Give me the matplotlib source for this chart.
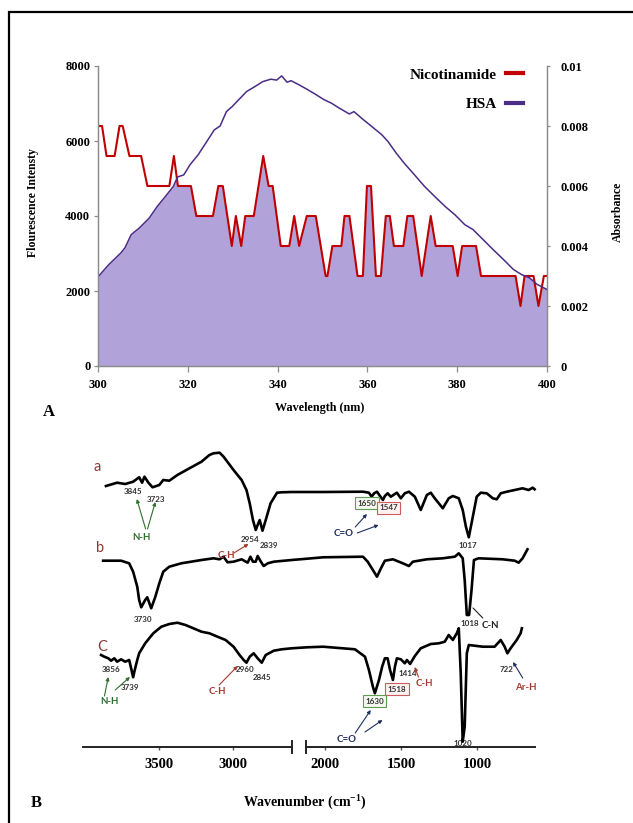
import numpy as np
import matplotlib
matplotlib.use('Agg')
import matplotlib.pyplot as plt
from matplotlib.lines import Line2D
from matplotlib.patches import Rectangle
from matplotlib.ticker import FixedLocator, FuncFormatter

plt.rcParams['font.family'] = 'Liberation Serif'
plt.rcParams['mathtext.fontset'] = 'custom'
plt.rcParams['mathtext.rm'] = 'Liberation Serif:bold'
plt.rcParams['mathtext.bf'] = 'Liberation Serif:bold'

# ---------------- panel A: fluorescence / absorbance ----------------
nic_nm = [300, 300.9, 301.9, 303.7, 304.8, 305.5, 307.0, 309.6, 311.0, 315.9,
          316.9, 317.8, 320.7, 321.9, 325.6, 326.8, 327.8, 329.8, 330.7, 331.9,
          332.8, 334.7, 336.8, 338.0, 338.9, 340.7, 342.6, 343.7, 344.8, 346.5,
          348.5, 350.7, 351.1, 352.2, 354.2, 354.9, 356.0, 357.8, 359.0, 359.9,
          360.8, 361.9, 363.0, 364.1, 365.0, 365.9, 368.0, 368.9, 370.2, 372.1,
          374.1, 375.2, 379.0, 380.1, 381.1, 384.2, 385.3, 393.0, 394.1, 395.0,
          397.0, 398.1, 399.3, 400]
nic_val = [6400, 6400, 5600, 5600, 6400, 6400, 5600, 5600, 4800, 4800,
           5600, 4800, 4800, 4000, 4000, 4800, 4800, 3200, 4000, 3200,
           4000, 4000, 5600, 4800, 4800, 3200, 3200, 4000, 3200, 4000,
           4000, 2400, 2400, 3200, 3200, 4000, 4000, 2400, 2400, 4800,
           4800, 2400, 2400, 4000, 4000, 3200, 3200, 4000, 4000, 2400,
           4000, 3200, 3200, 2400, 3200, 3200, 2400, 2400, 1600, 2400,
           2400, 1600, 2400, 2400]

hsa_nm = [300, 302.4, 305.1, 306.0, 307.4, 309.2, 311.4, 313.2, 315.0, 316.8,
          317.7, 319.1, 320.5, 322.3, 324.0, 325.9, 327.2, 328.6, 329.9, 331.3,
          333.1, 334.9, 336.7, 338.5, 339.8, 340.9, 342.1, 343.0, 344.8, 346.6,
          348.4, 350.2, 352.0, 353.8, 356.0, 357.0, 358.7, 361.0, 363.2, 364.6,
          366.4, 368.2, 370.5, 372.7, 375.0, 377.3, 379.5, 381.7, 383.5, 385.8,
          388.0, 390.3, 392.5, 394.3, 396.1, 397.8, 400]
hsa_abs = [0.00297, 0.00338, 0.00377, 0.00394, 0.00438, 0.00460, 0.00493, 0.00532, 0.00565, 0.00599,
           0.00630, 0.00637, 0.00671, 0.00704, 0.00743, 0.00787, 0.00800, 0.00848, 0.00865, 0.00887,
           0.00915, 0.00931, 0.00948, 0.00956, 0.00953, 0.00967, 0.00946, 0.00951, 0.00937, 0.00922,
           0.00906, 0.00889, 0.00876, 0.00859, 0.00840, 0.00848, 0.00826, 0.00798, 0.00771, 0.00748,
           0.00710, 0.00676, 0.00637, 0.00599, 0.00565, 0.00532, 0.00504, 0.00471, 0.00455, 0.00421,
           0.00388, 0.00355, 0.00322, 0.00305, 0.00294, 0.00272, 0.00255]

# ---------------- panel B: FTIR spectra (a.u.) ----------------
a_wn = [3863, 3787, 3732, 3678, 3637, 3617, 3601, 3574, 3546, 3500, 3473, 3432, 3377, 3295, 3213,
        3159, 3131, 3090, 3063, 2995, 2940, 2907, 2885, 2863, 2844, 2831, 2817, 2798, 2776, 2743,
        2699, 2667, 2598, 2118, 2013, 1750, 1711, 1693, 1677, 1658, 1632, 1619, 1606, 1588, 1567,
        1527, 1501, 1475, 1448, 1409, 1370, 1330, 1304, 1278, 1225, 1186, 1159, 1120, 1094, 1073,
        1054, 1036, 1002, 975, 936, 896, 870, 844, 804, 752, 700, 660, 634, 621]
a_t = [261, 264.3, 263, 265.3, 269.7, 264.3, 270.3, 264.3, 259.7, 262, 267, 266.3, 272, 278.7, 285.3,
       292, 293.7, 294.3, 290.3, 277, 267, 257, 243.7, 227, 217, 222, 227, 216.3, 227, 243.7,
       254.3, 254.7, 255, 255, 255, 255.3, 254.3, 250.3, 253.7, 255.3, 249.7, 247, 251, 253.7, 250.3,
       254.3, 248.7, 253.7, 255.3, 250.3, 237, 252, 254.3, 248.7, 238.7, 248.7, 251, 248.7, 237, 220.3,
       209.7, 223.7, 250.3, 254.3, 253.7, 248.7, 247.7, 253.7, 255.3, 257, 258.7, 257, 259.3, 257.7]

b_wn = [3882, 3760, 3705, 3678, 3650, 3637, 3623, 3596, 3582, 3555, 3527, 3500, 3473, 3432, 3350,
        3213, 3131, 3090, 3063, 3036, 2995, 2940, 2899, 2880, 2863, 2844, 2831, 2809, 2790, 2762,
        2721, 2598, 2118, 2013, 1750, 1719, 1685, 1658, 1632, 1606, 1553, 1488, 1448, 1422, 1330,
        1225, 1146, 1120, 1094, 1081, 1067, 1052, 1036, 1020, 989, 831, 752, 726, 700, 668]
b_t = [186.3, 186.3, 183.7, 175.3, 160.3, 147, 139.7, 147, 149.7, 138.7, 150.3, 163.7, 175.3, 180.3, 183.7,
       187, 188.7, 187.7, 190.3, 184.7, 185.3, 187.7, 184.3, 190.3, 185.3, 185.3, 191, 185.3, 181, 183.7,
       185.3, 187, 188.3, 189.7, 190.3, 185.3, 177, 170.3, 178.7, 186.3, 187.7, 183.7, 181, 185.3, 187.7,
       188.7, 190.3, 193.7, 188.7, 167, 132, 132, 157, 187, 188.7, 187.7, 186.3, 184.3, 188.7, 197.7]

c_wn = [3896, 3874, 3847, 3828, 3806, 3787, 3760, 3732, 3705, 3689, 3678, 3667, 3650, 3637, 3596,
        3541, 3486, 3432, 3377, 3322, 3268, 3213, 3159, 3104, 3049, 2995, 2954, 2926, 2907, 2885,
        2858, 2831, 2803, 2776, 2721, 2667, 2598, 2118, 2013, 1803, 1737, 1711, 1685, 1672, 1645,
        1624, 1606, 1588, 1572, 1553, 1540, 1527, 1501, 1475, 1461, 1440, 1409, 1370, 1304, 1251,
        1212, 1186, 1159, 1133, 1120, 1107, 1094, 1081, 1067, 1054, 962, 884, 844, 818, 800,
        779, 739, 713, 705]
c_t = [92, 90.3, 88.7, 86.3, 88.7, 85.3, 87.7, 85.3, 87, 77, 69.7, 77, 87, 93.7, 103.7,
       113.7, 120.3, 123, 124.3, 122, 118.7, 115.3, 113.7, 110.3, 107, 100.3, 92, 87, 84.3, 90.3,
       93.7, 88.7, 84.3, 92, 96.3, 97.7, 98.7, 99.7, 100.3, 97.7, 90.3, 77, 60.3, 53.7, 67,
       80.3, 88.7, 88.7, 77, 67, 80.3, 88.7, 87.7, 83.7, 87, 83, 91, 98.7, 103, 103.7,
       105.3, 112, 107, 113.7, 118.7, 73.7, 5.3, 20.3, 93.7, 102, 100.3, 100.3, 107, 100.3, 93.7,
       98.7, 107, 113.7, 118.7]

RED = '#C00000'
PURPLE = '#4B2C86'
FILL = '#B1A3DA'
GREY = '#8C8C8C'

W, H = 633, 823
fig = plt.figure(figsize=(W / 100, H / 100), dpi=100)


def box(l, t, r, b):
    return [l / W, 1 - b / H, (r - l) / W, (b - t) / H]


# frame around the figure (only top and left edges visible)
fig.patches.append(Rectangle((9 / W, -0.1), 1.2, 1.1 - 12 / H, transform=fig.transFigure,
                             fill=False, ec='black', lw=1.6))

# ---------------- panel A ----------------
ax = fig.add_axes(box(98, 66, 547, 366))
ax2 = ax.twinx()

grid = np.union1d(np.linspace(300, 400, 2001), np.union1d(nic_nm, hsa_nm))
top = np.minimum(np.interp(grid, nic_nm, nic_val),
                 np.interp(grid, hsa_nm, hsa_abs) * 8000 / 0.01)
ax.fill_between(grid, 0, top, color=FILL, lw=0)
ax.plot(nic_nm, nic_val, color=RED, lw=1.5)
ax2.plot(hsa_nm, hsa_abs, color=PURPLE, lw=1.1)

ax.set_xlim(300, 400)
ax.set_ylim(0, 8000)
ax2.set_ylim(0, 0.01)
ax.set_xticks(np.arange(300, 401, 20))
ax.set_yticks(np.arange(0, 8001, 2000))
ax2.set_yticks(np.arange(0, 0.0101, 0.002))
ax2.yaxis.set_major_formatter(FuncFormatter(lambda v, p: f'{v:g}'))

for a in (ax, ax2):
    a.spines['top'].set_visible(False)
    for s in ('left', 'right', 'bottom'):
        a.spines[s].set_color(GREY)
        a.spines[s].set_linewidth(0.9)
ax.tick_params(axis='y', length=3, width=0.9, color=GREY, pad=2.5, labelsize=9)
ax.tick_params(axis='x', length=4, width=0.9, color=GREY, pad=5, labelsize=9)
ax2.tick_params(axis='y', length=2.5, width=0.9, color=GREY, pad=7, labelsize=9)
for lab in ax.get_xticklabels() + ax.get_yticklabels() + ax2.get_yticklabels():
    lab.set_fontweight('bold')

handles = [Line2D([], [], color=RED, lw=3), Line2D([], [], color=PURPLE, lw=3)]
ax2.legend(handles, ['Nicotinamide', 'HSA'], loc='upper right',
           bbox_to_anchor=(523 / W, 1 - 68 / H), bbox_transform=fig.transFigure,
           frameon=False, markerfirst=False, handlelength=1.1, handletextpad=0.6,
           labelspacing=1.05, borderpad=0, borderaxespad=0,
           prop={'family': 'Liberation Serif', 'weight': 'bold', 'size': 11})

fig.text(33 / W, 1 - 203 / H, 'Flourescence Intensty', rotation=90, ha='center', va='center',
         fontsize=8.5, fontweight='bold')
fig.text(618 / W, 1 - 212 / H, 'Absorbance', rotation=90, ha='center', va='center',
         fontsize=8.5, fontweight='bold')
fig.text(320 / W, 1 - 408 / H, 'Wavelength (nm)', ha='center', va='center',
         fontsize=8.7, fontweight='bold')
fig.text(49 / W, 1 - 412 / H, 'A', ha='center', va='center', fontsize=12, fontweight='bold')

# ---------------- panel B ----------------
# broken wavenumber axis: compress 2600-2125 cm-1 into a small gap
brk_wn = np.array([-4100, -2600, -2125, -500])
brk_px = np.array([71.1, 291.6, 306.0, 553.0])


def fwd(x):
    return -np.interp(-np.asarray(x, dtype=float), brk_wn, brk_px)


def inv(q):
    return -np.interp(-np.asarray(q, dtype=float), brk_px, brk_wn)


axb = fig.add_axes(box(71.1, 450, 553, 747))
axb.set_xscale('function', functions=(fwd, inv))
axb.set_xlim(4100, 500)
axb.set_ylim(0, 297)
for s in axb.spines.values():
    s.set_visible(False)
axb.set_yticks([])
axb.xaxis.set_major_locator(FixedLocator([3500, 3000, 2000, 1500, 1000]))
axb.xaxis.set_minor_locator(FixedLocator([]))
axb.tick_params(axis='x', length=2.5, width=1, color='#555555', pad=5.5, labelsize=10.5)
for lab in axb.get_xticklabels():
    lab.set_fontweight('bold')

axb.plot([4016, 2600], [0, 0], color='#222222', lw=1.4, clip_on=False)
axb.plot([2125, 618], [0, 0], color='#222222', lw=1.4, clip_on=False)
for xb in (2600, 2125):
    axb.plot([xb, xb], [-6, 6], color='#222222', lw=1.4, clip_on=False)

for wn, t in ((a_wn, a_t), (b_wn, b_t), (c_wn, c_t)):
    axb.plot(wn, t, color='black', lw=1.9, clip_on=False, zorder=3)

LBL = '#8B3A3A'
GRN = '#2F6F2F'
CHR = '#A33A2A'
NAV = '#1F2F5F'
sans = 'Lato'

for t, x, y in (('a', 3920, 280), ('b', 3900, 199), ('C', 3887, 100)):
    axb.text(x, y, t, fontsize=10.5, family=sans, color=LBL, ha='center', va='center')

nums = [('3845', 3680, 255), ('3723', 3520, 248), ('2954', 2880, 208), ('2839', 2753, 202),
        ('1017', 1058, 201), ('3730', 3613, 127), ('1018', 1045, 124), ('3856', 3827, 78),
        ('3739', 3700, 59), ('2960', 2913, 78), ('2845', 2800, 69), ('1414', 1455, 74),
        ('1020', 1090, 3), ('722', 808, 77)]
for t, x, y in nums:
    axb.text(x, y, t, fontsize=5.8, family=sans, fontweight='bold', ha='center', va='center',
             color='#333333', zorder=2)

groups = [('N-H', 3620, 209, GRN), ('C-H', 3047, 192, CHR), ('C=O', 1878, 213, NAV),
          ('C-N', 910, 122, '#222222'), ('N-H', 3840, 45, GRN), ('C-H', 3107, 55, CHR),
          ('C=O', 1859, 7, NAV), ('C-H', 1346, 64, CHR), ('Ar-H', 679, 60, CHR)]
for t, x, y, c in groups:
    axb.text(x, y, t, fontsize=7, family=sans, fontweight='bold', color=c,
             ha='center', va='center')

boxes = [('1650', 1724, 244, '#F3F9EF', '#5E9E52'), ('1547', 1583, 239, '#FDF2F2', '#D05A5A'),
         ('1630', 1673, 46, '#F3F9EF', '#5E9E52'), ('1518', 1526, 58, '#FDF2F2', '#D05A5A')]
for t, x, y, fc, ec in boxes:
    axb.text(x, y, t, fontsize=5.8, family=sans, fontweight='bold', ha='center', va='center',
             color='#333333', bbox=dict(boxstyle='square,pad=0.3', fc=fc, ec=ec, lw=0.8))

arrows = [((3593, 218), (3653, 248), GRN), ((3580, 218), (3527, 245), GRN),
          ((2993, 194), (2893, 203), CHR), ((1801, 220), (1724, 233), NAV),
          ((1788, 214), (1647, 222), NAV), ((3873, 51), (3847, 70), GRN),
          ((3800, 57), (3700, 70), GRN), ((3093, 62), (2967, 81), CHR),
          ((1801, 14), (1699, 37), NAV), ((1737, 15), (1622, 27), NAV),
          ((1385, 70), (1410, 80), CHR), ((699, 69), (763, 85), NAV)]
for tail, head, c in arrows:
    axb.annotate('', xy=head, xytext=tail,
                 arrowprops=dict(arrowstyle='-|>', color=c, lw=0.8, mutation_scale=5,
                                 shrinkA=0, shrinkB=0))
axb.annotate('', xy=(962, 129), xytext=(1026, 139),
             arrowprops=dict(arrowstyle='-', color='#222222', lw=0.8, shrinkA=0, shrinkB=0))

fig.text(305 / W, 1 - 802 / H, 'Wavenumber (cm$^{\\mathbf{-1}}$)', ha='center', va='center',
         fontsize=10, fontweight='bold')
fig.text(36 / W, 1 - 803 / H, 'B', ha='center', va='center', fontsize=12, fontweight='bold')

fig.savefig('out.png', dpi=100)
